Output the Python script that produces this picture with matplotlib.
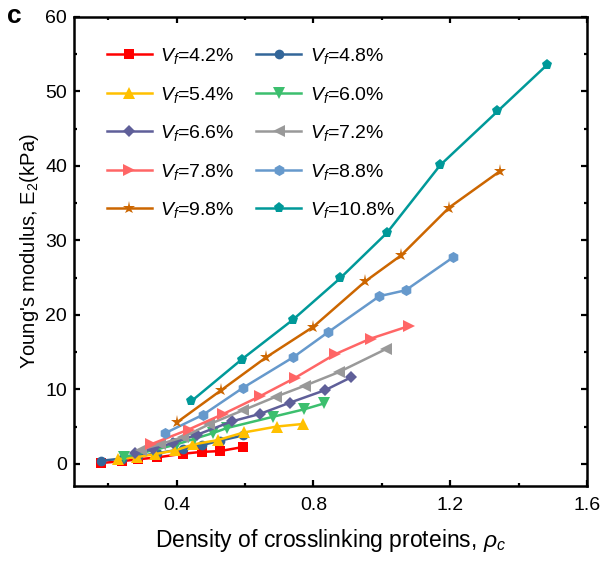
import matplotlib
matplotlib.use("Agg")
import matplotlib.pyplot as plt
from matplotlib.ticker import MultipleLocator

plt.rcParams["font.family"] = ["Liberation Sans", "DejaVu Sans"]
plt.rcParams["mathtext.fontset"] = "custom"
plt.rcParams["mathtext.rm"] = "Liberation Sans"
plt.rcParams["mathtext.it"] = "Liberation Sans:italic"

# density of crosslinking proteins (x) and Young's modulus E2 in kPa (y)
vf_labels = ["4.2", "4.8", "5.4", "6.0", "6.6", "7.2", "7.8", "8.8", "9.8", "10.8"]

x_42 = [0.178, 0.240, 0.286, 0.342, 0.419, 0.474, 0.526, 0.594]
y_42 = [0.1, 0.35, 0.6, 0.85, 1.35, 1.6, 1.7, 2.25]

x_48 = [0.178, 0.240, 0.286, 0.342, 0.419, 0.474, 0.526, 0.594]
y_48 = [0.4, 0.7, 1.0, 1.4, 2.0, 2.5, 3.1, 3.8]

x_54 = [0.229, 0.285, 0.337, 0.396, 0.449, 0.522, 0.596, 0.693, 0.770]
y_54 = [0.65, 0.9, 1.3, 1.8, 2.6, 3.2, 4.2, 5.0, 5.35]

x_60 = [0.245, 0.330, 0.400, 0.455, 0.505, 0.547, 0.681, 0.772, 0.831]
y_60 = [0.9, 1.8, 2.6, 3.4, 4.1, 4.8, 6.3, 7.3, 8.1]

x_66 = [0.279, 0.330, 0.390, 0.460, 0.562, 0.644, 0.731, 0.835, 0.910]
y_66 = [1.4, 2.0, 2.8, 3.9, 5.7, 6.7, 8.2, 9.9, 11.6]

x_72 = [0.295, 0.350, 0.420, 0.495, 0.595, 0.690, 0.776, 0.874, 1.012]
y_72 = [1.9, 2.6, 3.6, 5.3, 7.2, 9.0, 10.5, 12.3, 15.4]

x_78 = [0.324, 0.435, 0.537, 0.645, 0.745, 0.863, 0.967, 1.080]
y_78 = [2.6, 4.6, 6.7, 9.1, 11.5, 14.7, 16.8, 18.5]

x_88 = [0.366, 0.478, 0.594, 0.741, 0.844, 0.993, 1.070, 1.208]
y_88 = [4.1, 6.6, 10.2, 14.3, 17.7, 22.5, 23.3, 27.7]

x_98 = [0.402, 0.531, 0.662, 0.800, 0.952, 1.057, 1.197, 1.346]
y_98 = [5.6, 9.9, 14.3, 18.4, 24.5, 28.0, 34.4, 39.3]

x_108 = [0.443, 0.590, 0.739, 0.878, 1.015, 1.171, 1.338, 1.482]
y_108 = [8.4, 14.0, 19.3, 24.9, 31.0, 40.1, 47.3, 53.5]

xs = [x_42, x_48, x_54, x_60, x_66, x_72, x_78, x_88, x_98, x_108]
ys = [y_42, y_48, y_54, y_60, y_66, y_72, y_78, y_88, y_98, y_108]

colors = ["#ff0000", "#336699", "#ffc000", "#3cbf6e", "#5f5f99",
          "#999999", "#ff6666", "#6699cc", "#cc6600", "#009999"]
markers = ["s", "o", "^", "v", "D", "<", ">", "h", "*", "p"]
msizes = [7, 7, 8, 8, 6.5, 8, 8, 8, 9.5, 8]

fig = plt.figure(figsize=(6.02, 5.62), dpi=100)
ax = fig.add_axes([0.123, 0.135, 0.852, 0.835])

handles = []
for x, y, c, m, ms, lab in zip(xs, ys, colors, markers, msizes, vf_labels):
    h, = ax.plot(x, y, color=c, marker=m, markersize=ms, linewidth=1.8,
                 markeredgewidth=0, label=r"$V_f$=" + lab + "%")
    handles.append(h)

ax.set_xlim(0.1, 1.6)
ax.set_ylim(-3, 60)
ax.xaxis.set_major_locator(MultipleLocator(0.4))
ax.xaxis.set_minor_locator(MultipleLocator(0.2))
ax.yaxis.set_major_locator(MultipleLocator(10))
ax.yaxis.set_minor_locator(MultipleLocator(5))
ax.set_xticks([0.4, 0.8, 1.2, 1.6])
ax.set_xticklabels(["0.4", "0.8", "1.2", "1.6"])

ax.tick_params(which="both", direction="in", top=True, right=True,
               labelsize=14, width=1.6)
ax.tick_params(which="major", length=4.5)
ax.tick_params(axis="x", which="major", pad=8)
ax.tick_params(axis="y", which="major", pad=5)
ax.tick_params(which="minor", length=2.5)
for sp in ax.spines.values():
    sp.set_linewidth(1.8)

ax.set_xlabel(r"Density of crosslinking proteins, $\rho_c$", fontsize=16.5, labelpad=9)
ax.set_ylabel(r"Young's modulus, E$_2$(kPa)", fontsize=14.5, labelpad=3)

# legend filled row by row like the original
order = [0, 2, 4, 6, 8, 1, 3, 5, 7, 9]
ax.legend([handles[i] for i in order], [handles[i].get_label() for i in order],
          ncol=2, frameon=False, fontsize=14, loc="upper left",
          bbox_to_anchor=(0.03, 0.975), handlelength=2.3, handletextpad=0.45,
          columnspacing=1.1, labelspacing=0.95)

fig.text(0.012, 0.972, "c", fontsize=19, fontweight="bold", va="center")

fig.savefig("out.png", dpi=100)
